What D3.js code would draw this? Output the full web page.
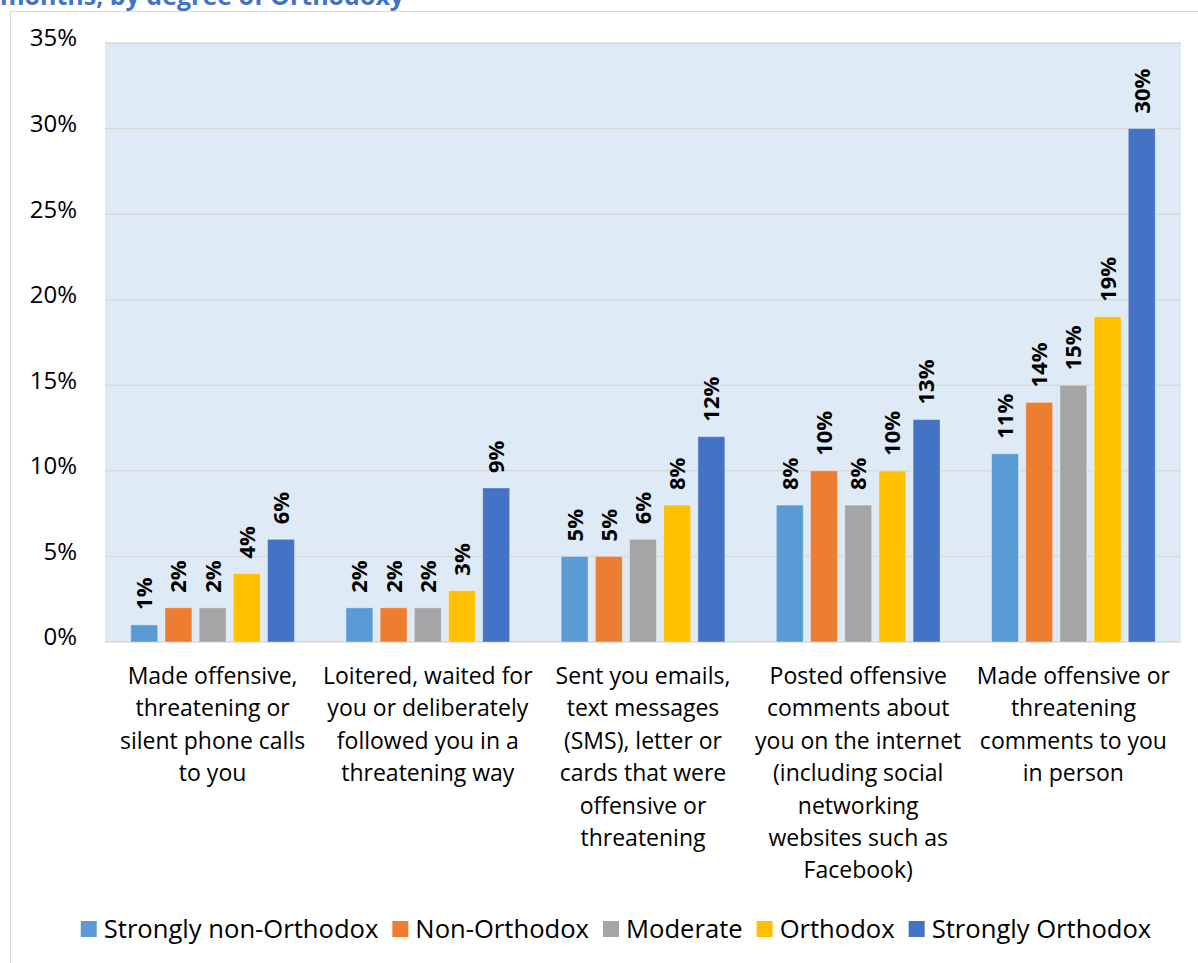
<!DOCTYPE html>
<html>
<head>
<meta charset="utf-8">
<script src="https://cdn.jsdelivr.net/npm/d3@7"></script>
<style>
  html, body { margin: 0; padding: 0; background: #ffffff; }
  svg { display: block; }
  text { font-family: "Open Sans", "Noto Sans", sans-serif; fill: #000; }
</style>
</head>
<body>
<svg id="chart" width="1198" height="963"></svg>
<script>
// ---- data ----
const titleText = "months, by degree of Orthodoxy";
const categories = [
  ["Made offensive,", "threatening or", "silent phone calls", "to you"],
  ["Loitered, waited for", "you or deliberately", "followed you in a", "threatening way"],
  ["Sent you emails,", "text messages", "(SMS), letter or", "cards that were", "offensive or", "threatening"],
  ["Posted offensive", "comments about", "you on the internet", "(including social", "networking", "websites such as", "Facebook)"],
  ["Made offensive or", "threatening", "comments to you", "in person"]
];
const seriesNames = ["Strongly non-Orthodox", "Non-Orthodox", "Moderate", "Orthodox", "Strongly Orthodox"];
const seriesColors = ["#5b9bd5", "#ed7d31", "#a5a5a5", "#ffc000", "#4472c4"];
const stronglyNonOrthodox = [1, 2, 5, 8, 11];
const nonOrthodox = [2, 2, 5, 10, 14];
const moderate = [2, 2, 6, 8, 15];
const orthodox = [4, 3, 8, 10, 19];
const stronglyOrthodox = [6, 9, 12, 13, 30];
const seriesValues = [stronglyNonOrthodox, nonOrthodox, moderate, orthodox, stronglyOrthodox];
const yTicks = [0, 5, 10, 15, 20, 25, 30, 35];

// ---- layout ----
const svg = d3.select("#chart");
const plot = { left: 105, right: 1181, top: 43, bottom: 642 };

// outer frame
svg.append("line").attr("x1", 10.5).attr("x2", 10.5).attr("y1", 11).attr("y2", 963)
  .attr("stroke", "#d9d9d9").attr("stroke-width", 1);
svg.append("line").attr("x1", 10).attr("x2", 1198).attr("y1", 11.5).attr("y2", 11.5)
  .attr("stroke", "#d9d9d9").attr("stroke-width", 1);

// cut-off title (only its lower part is visible in the reference)
svg.append("text").attr("x", 0).attr("y", 5)
  .style("font-size", "25px").style("font-weight", "bold").style("fill", "#4472c4")
  .text(titleText);

const idx = d3.range(categories.length);
const x0 = d3.scaleBand().domain(idx).range([plot.left, plot.right])
  .paddingInner(0.233).paddingOuter(0.1165);
const x1 = d3.scaleBand().domain(d3.range(seriesNames.length)).range([0, x0.bandwidth()])
  .paddingInner(0.212).paddingOuter(0.02);
const y = d3.scaleLinear().domain([0, 35]).range([plot.bottom, plot.top]);

// plot background
svg.append("rect").attr("x", plot.left).attr("y", plot.top)
  .attr("width", plot.right - plot.left).attr("height", plot.bottom - plot.top)
  .attr("fill", "#deebf7");

// gridlines
svg.append("g").selectAll("line").data(yTicks).join("line")
  .attr("x1", plot.left).attr("x2", plot.right)
  .attr("y1", d => y(d)).attr("y2", d => y(d))
  .attr("stroke", "#d9d9d9").attr("stroke-width", 1.5);

// y axis labels
const yAxis = d3.axisLeft(y).tickValues(yTicks).tickFormat(d => d + "%").tickSize(0).tickPadding(0);
const yg = svg.append("g").attr("transform", "translate(77,0)").call(yAxis);
yg.select(".domain").remove();
yg.selectAll("text").style("font-family", "'Open Sans', sans-serif").style("font-size", "24px")
  .attr("dy", "0.12em").attr("fill", "#000");

// bars
const groups = svg.append("g").selectAll("g").data(idx).join("g")
  .attr("transform", i => `translate(${x0(i)},0)`);
groups.selectAll("rect")
  .data(i => seriesValues.map((vals, s) => ({ s, v: vals[i] })))
  .join("rect")
  .attr("x", d => x1(d.s))
  .attr("width", x1.bandwidth())
  .attr("y", d => y(d.v))
  .attr("height", d => y(0) - y(d.v))
  .attr("fill", d => seriesColors[d.s])
  .attr("stroke", "rgba(255,255,255,0.35)")
  .attr("stroke-width", 1);

// value labels (rotated)
groups.selectAll("text.val")
  .data(i => seriesValues.map((vals, s) => ({ s, v: vals[i] })))
  .join("text").attr("class", "val")
  .attr("transform", d => `translate(${x1(d.s) + x1.bandwidth() / 2},${y(d.v) - 15}) rotate(-90)`)
  .attr("dy", "0.36em")
  .attr("text-anchor", "start")
  .style("font-size", "22px").style("font-weight", "bold")
  .text(d => d.v + "%");

// category labels
const catG = svg.append("g").selectAll("text").data(idx).join("text")
  .attr("text-anchor", "middle")
  .style("font-size", "23px");
catG.selectAll("tspan").data(i => categories[i].map(t => ({ i, t })))
  .join("tspan")
  .attr("x", d => x0(d.i) + x0.bandwidth() / 2)
  .attr("y", (d, k) => 684 + k * 32.4)
  .text(d => d.t);

// legend
const legend = svg.append("g");
const items = legend.selectAll("g").data(seriesNames).join("g");
items.append("rect").attr("width", 16).attr("height", 16).attr("y", -17)
  .attr("fill", (d, i) => seriesColors[i]);
items.append("text").attr("x", 23).attr("y", 0).style("font-size", "25.6px").text(d => d);
const widths = [];
items.each(function () {
  const w = 23 + d3.select(this).select("text").node().getComputedTextLength();
  widths.push(w);
});
const gap = 14;
const total = d3.sum(widths) + gap * (widths.length - 1);
let start = 616 - total / 2;
items.attr("transform", (d, i) => {
  const t = `translate(${start},938)`;
  start += widths[i] + gap;
  return t;
});
</script>
</body>
</html>
